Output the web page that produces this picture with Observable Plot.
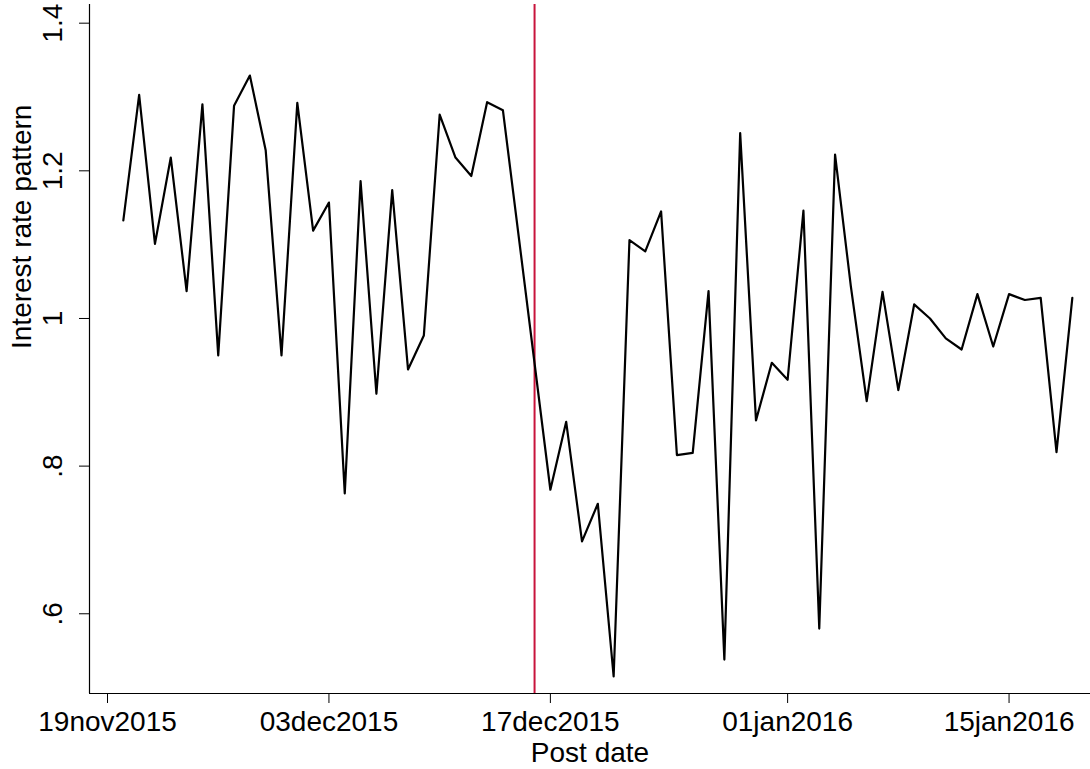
<!DOCTYPE html>
<html><head><meta charset="utf-8">
<script src="https://cdn.jsdelivr.net/npm/d3@7"></script>
<script src="https://cdn.jsdelivr.net/npm/@observablehq/plot@0.6"></script>
<style>body{margin:0;background:#fff;} svg{display:block;}</style>
</head><body><div id="chart"></div>
<script>
const postDates = [
  "2015-11-20","2015-11-21","2015-11-22","2015-11-23","2015-11-24","2015-11-25","2015-11-26","2015-11-27","2015-11-28","2015-11-29",
  "2015-11-30","2015-12-01","2015-12-02","2015-12-03","2015-12-04","2015-12-05","2015-12-06","2015-12-07","2015-12-08","2015-12-09",
  "2015-12-10","2015-12-11","2015-12-12","2015-12-13","2015-12-14",
  "2015-12-17","2015-12-18","2015-12-19","2015-12-20","2015-12-21","2015-12-22","2015-12-23","2015-12-24","2015-12-25","2015-12-26",
  "2015-12-27","2015-12-28","2015-12-29","2015-12-30","2015-12-31","2016-01-01","2016-01-02","2016-01-03","2016-01-04","2016-01-05",
  "2016-01-06","2016-01-07","2016-01-08","2016-01-09","2016-01-10","2016-01-11","2016-01-12","2016-01-13","2016-01-14","2016-01-15",
  "2016-01-16","2016-01-17","2016-01-18","2016-01-19"
];
const patternValues = [
  1.133,1.303,1.101,1.218,1.037,1.290,0.950,1.288,1.329,1.228,
  0.950,1.292,1.119,1.157,0.763,1.186,0.898,1.174,0.931,0.977,
  1.276,1.218,1.193,1.293,1.282,
  0.768,0.860,0.698,0.749,0.515,1.106,1.091,1.145,0.815,0.818,
  1.037,0.538,1.251,0.862,0.940,0.917,1.146,0.580,1.222,1.043,
  0.888,1.036,0.903,1.019,1.000,0.973,0.958,1.033,0.962,1.033,
  1.025,1.028,0.819,1.028
];
const xTickDates = ["2015-11-19","2015-12-03","2015-12-17","2016-01-01","2016-01-15"];
const xTickLabels = ["19nov2015","03dec2015","17dec2015","01jan2016","15jan2016"];
const yTickValues = [0.6, 0.8, 1, 1.2, 1.4];
const yTickLabels = [".6", ".8", "1", "1.2", "1.4"];
const eventDate = "2015-12-16";
const xAxisTitle = "Post date";
const yAxisTitle = "Interest rate pattern";

const parse = d3.utcParse("%Y-%m-%d");
const data = postDates.map((d, i) => ({date: parse(d), value: patternValues[i]}));
const xTicks = xTickDates.map(parse);
const xDomain = [new Date(Date.UTC(2015, 10, 17, 20, 40)), new Date(Date.UTC(2016, 0, 20, 3, 35))];
const yDomain = [0.492, 1.4253];

const chart = Plot.plot({
  width: 1090,
  height: 769,
  marginLeft: 89,
  marginRight: 0,
  marginTop: 4,
  marginBottom: 76,
  style: {fontFamily: "'Liberation Sans', Arial, Helvetica, sans-serif", fontSize: "28px", background: "#fff", color: "#000"},
  x: {type: "utc", domain: xDomain},
  y: {domain: yDomain},
  marks: [
    Plot.ruleX([xDomain[0]], {stroke: "#000", strokeWidth: 1.2}),
    Plot.ruleY([yDomain[0]], {stroke: "#000", strokeWidth: 1.2}),
    Plot.axisX({
      ticks: xTicks,
      tickFormat: d => xTickLabels[xTicks.findIndex(t => +t === +d)],
      tickSize: 10, tickPadding: 8, label: null, fontSize: 28, stroke: "#000"
    }),
    Plot.axisY({
      ticks: yTickValues,
      tickFormat: d => yTickLabels[yTickValues.indexOf(d)],
      tickSize: 10, tickRotate: -90, tickPadding: 18, label: null, fontSize: 28, stroke: "#000"
    }),
    Plot.text([xAxisTitle], {frameAnchor: "bottom", lineAnchor: "top", dy: 49, fontSize: 28, fill: "#000"}),
    Plot.text([yAxisTitle], {frameAnchor: "left", rotate: -90, lineAnchor: "middle", dx: -67, fontSize: 28, fill: "#000"}),
    Plot.ruleX([parse(eventDate)], {stroke: "#c8143c", strokeWidth: 2}),
    Plot.line(data, {x: "date", y: "value", stroke: "#000", strokeWidth: 2.2})
  ]
});
document.getElementById("chart").appendChild(chart);
</script>
</body></html>
